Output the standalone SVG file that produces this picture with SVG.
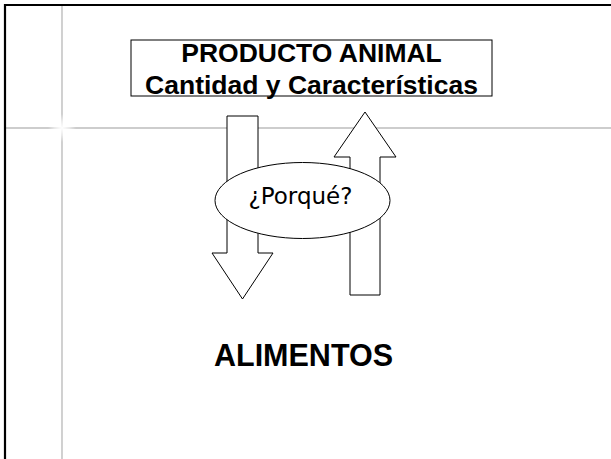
<svg xmlns="http://www.w3.org/2000/svg" width="611" height="459" viewBox="0 0 611 459">
  <defs>
    <radialGradient id="glow" cx="0.5" cy="0.5" r="0.5">
      <stop offset="0" stop-color="#ffffff" stop-opacity="1"/>
      <stop offset="0.5" stop-color="#ffffff" stop-opacity="0.6"/>
      <stop offset="1" stop-color="#ffffff" stop-opacity="0"/>
    </radialGradient>
  </defs>
  <style>
    .frame { fill: none; stroke: #000; stroke-width: 2.2; }
    .guide { stroke: #bdbdbd; stroke-width: 1.4; }
    .shape { fill: #fff; stroke: #000; stroke-width: 1; }
    .bold { font-family: "Liberation Sans", Arial, sans-serif; font-weight: bold; fill: #000; text-anchor: middle; }
    .plain { font-family: "DejaVu Sans", Verdana, sans-serif; fill: #000; text-anchor: middle; }
  </style>
  <rect width="611" height="459" fill="#fff"/>
  <g id="background">
    <line class="guide" x1="62" y1="6" x2="62" y2="459"/>
    <line class="guide" x1="6" y1="128" x2="611" y2="128"/>
    <circle cx="62" cy="128" r="14" fill="url(#glow)"/>
    <path class="frame" d="M5 459 V5 H611"/>
  </g>
  <g id="connectors">
    <path id="arrow-down" class="shape" d="M227 116 H258 V253 H273 L242.5 299 L212 253 H227 Z"/>
    <path id="arrow-up" class="shape" d="M350 295 V157 H334 L365 112 L396 157 H380 V295 Z"/>
  </g>
  <g id="producto">
    <rect class="shape" x="131" y="40" width="361" height="56"/>
    <text class="bold" x="311.5" y="62" font-size="26.5">PRODUCTO ANIMAL</text>
    <text class="bold" x="311.5" y="93.5" font-size="26.5">Cantidad y Características</text>
  </g>
  <g id="porque">
    <ellipse class="shape" cx="302.5" cy="200.5" rx="87.5" ry="38"/>
    <text class="plain" x="300.5" y="204" font-size="23">¿Porqué?</text>
  </g>
  <g id="alimentos">
    <text class="bold" x="303.5" y="366" font-size="30.5">ALIMENTOS</text>
  </g>
</svg>
